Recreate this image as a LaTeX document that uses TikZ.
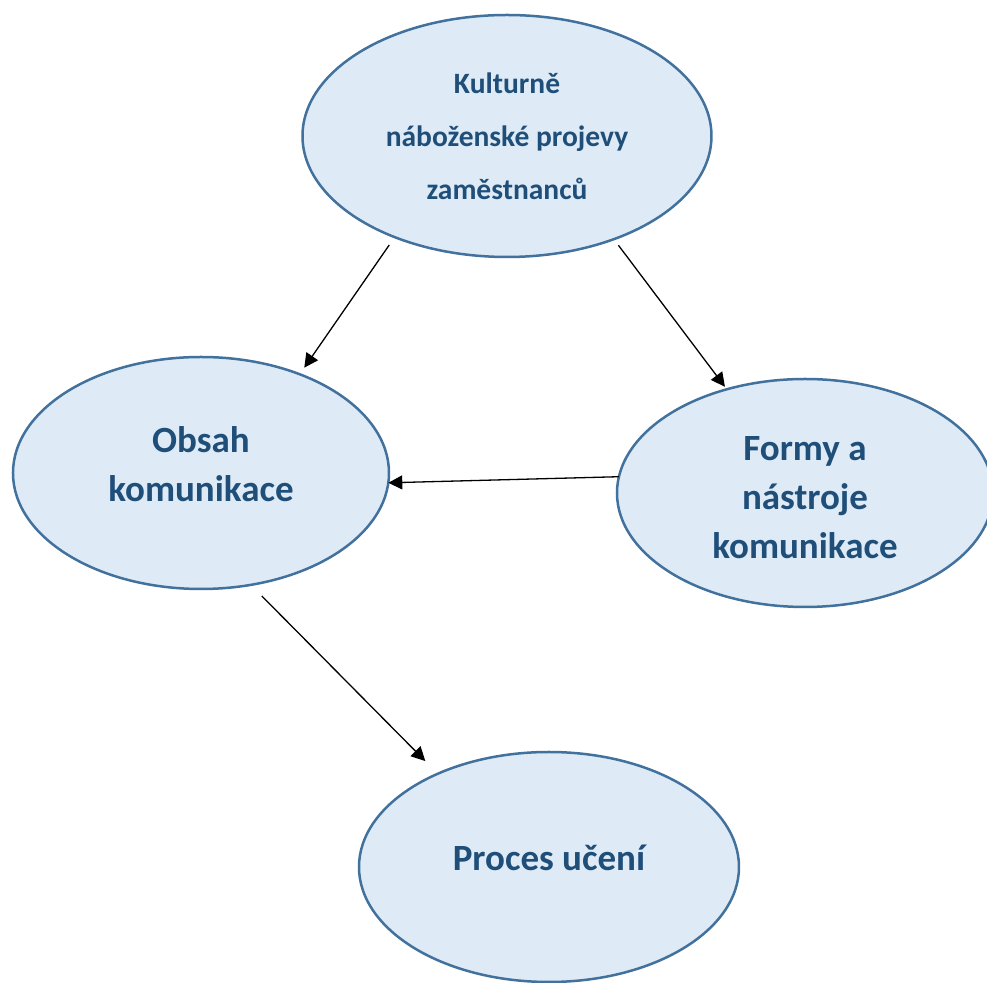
\documentclass[tikz,border=0pt]{standalone}
\usepackage{fontspec}
\setmainfont{Carlito}
\usetikzlibrary{positioning,shapes.geometric,arrows.meta}
\definecolor{ovalfill}{HTML}{DEEBF7}
\definecolor{ovalline}{HTML}{41719C}
\definecolor{ovaltext}{HTML}{1F4E79}
\begin{document}
\begin{tikzpicture}[>={Triangle[length=7pt,width=7pt]},on grid,
    every node/.style={draw=ovalline,fill=ovalfill,ellipse,line width=1.25pt,inner sep=0pt,outer sep=0pt,align=center,text=ovaltext},
    big/.style={font=\fontsize{18.5}{24.5}\selectfont\bfseries},
    small/.style={font=\fontsize{14.75}{26.5}\selectfont\bfseries}]
    \useasboundingbox (-253.5pt,68pt) rectangle (240pt,-423.5pt);
    \node [small,minimum width=204.5pt,minimum height=121pt] (kult) {Kulturně\\náboženské projevy\\zaměstnanců};
    \node [big,below left=168.5pt and 153pt of kult,minimum width=188pt,minimum height=116pt,text depth=9pt] (obsah) {Obsah\\komunikace};
    \node [big,below right=178.5pt and 149pt of kult,minimum width=188pt,minimum height=114pt,text height=66pt,text depth=0pt] (formy) {Formy a\\nástroje\\komunikace};
    \node [big,below right=197pt and 174pt of obsah,minimum width=190pt,minimum height=115pt,text depth=9pt] (proces) {Proces učení};
    \draw [->,line width=0.65pt,shorten <=4.8pt,shorten >=4pt] (kult.222) -- (obsah.45.6);
    \draw [->,line width=0.65pt,shorten <=3.8pt,shorten >=1.6pt] (kult.316.3) -- (formy.127.4);
    \draw [->,line width=0.65pt] (formy.175.4) -- (obsah.357.6);
    \draw [->,line width=0.65pt,shorten <=7.9pt,shorten >=8.9pt] (obsah.294.6) -- (proces.140.9);
\end{tikzpicture}
\end{document}
